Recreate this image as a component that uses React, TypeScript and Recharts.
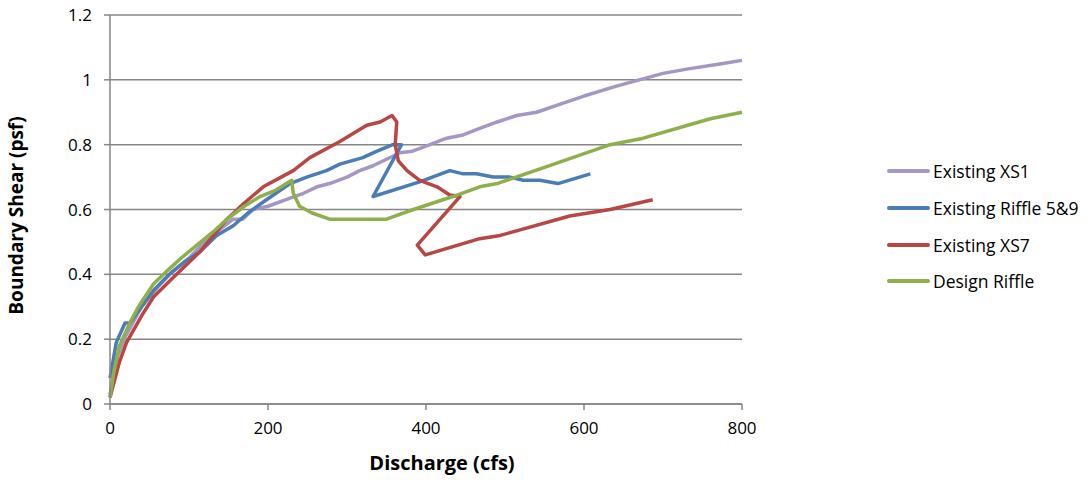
import { LineChart, Line, XAxis, YAxis, CartesianGrid } from 'recharts';

const FONT = "'Open Sans', 'Noto Sans', sans-serif";

const COLORS = {
  XS1: '#A597C4',
  RIFFLE: '#4A7DB6',
  XS7: '#B84644',
  DESIGN: '#8DB04A',
};

// discharge (cfs), boundary shear (psf)
const xs1Q = [0, 10, 20, 40, 60, 80, 100, 120, 140, 156, 168, 181, 200, 228, 245, 262, 278, 300, 316, 333, 350, 367, 383, 405, 426, 447, 468, 490, 515, 540, 570, 600, 640, 670, 700, 730, 772, 800];
const xs1Shear = [0.03, 0.15, 0.21, 0.3, 0.36, 0.41, 0.45, 0.5, 0.54, 0.57, 0.57, 0.6, 0.61, 0.635, 0.65, 0.67, 0.68, 0.7, 0.72, 0.735, 0.755, 0.775, 0.78, 0.8, 0.82, 0.83, 0.85, 0.87, 0.89, 0.9, 0.925, 0.95, 0.98, 1.0, 1.02, 1.033, 1.049, 1.06];

const riffleQ = [0, 8, 19, 25, 40, 55, 75, 95, 114, 135, 156, 175, 198, 228, 249, 274, 291, 320, 338, 358, 369, 333, 392, 430, 447, 464, 485, 506, 523, 544, 567, 608];
const riffleShear = [0.08, 0.19, 0.25, 0.25, 0.3, 0.35, 0.4, 0.44, 0.47, 0.52, 0.55, 0.59, 0.63, 0.68, 0.7, 0.72, 0.74, 0.76, 0.78, 0.8, 0.8, 0.64, 0.685, 0.72, 0.71, 0.71, 0.7, 0.7, 0.69, 0.69, 0.68, 0.71];

const xs7Q = [0, 12, 21, 42, 55, 80, 114, 148, 170, 194, 232, 253, 291, 325, 342, 357, 363, 361, 365, 376, 392, 414, 430, 443, 389, 399, 468, 494, 582, 633, 687];
const xs7Shear = [0.02, 0.13, 0.19, 0.28, 0.33, 0.39, 0.47, 0.57, 0.62, 0.67, 0.72, 0.76, 0.81, 0.86, 0.87, 0.89, 0.87, 0.8, 0.75, 0.72, 0.69, 0.67, 0.645, 0.64, 0.49, 0.46, 0.51, 0.52, 0.58, 0.6, 0.63];

const designQ = [0, 5, 12, 25, 36, 55, 72, 90, 110, 130, 148, 170, 190, 210, 230, 232, 240, 255, 278, 350, 384, 434, 468, 490, 550, 633, 675, 760, 800];
const designShear = [0.02, 0.1, 0.18, 0.25, 0.3, 0.37, 0.41, 0.45, 0.49, 0.53, 0.57, 0.61, 0.64, 0.66, 0.69, 0.65, 0.61, 0.59, 0.57, 0.57, 0.6, 0.64, 0.67, 0.68, 0.73, 0.8, 0.82, 0.88, 0.9];

const xTicks = [0, 200, 400, 600, 800];
const yTicks = [0, 0.2, 0.4, 0.6, 0.8, 1, 1.2];

const toPoints = (q: number[], s: number[]) => q.map((x, i) => ({ x, y: s[i] }));

const series = [
  { name: 'Existing XS1', color: COLORS.XS1, data: toPoints(xs1Q, xs1Shear) },
  { name: 'Existing Riffle 5&9', color: COLORS.RIFFLE, data: toPoints(riffleQ, riffleShear) },
  { name: 'Existing XS7', color: COLORS.XS7, data: toPoints(xs7Q, xs7Shear) },
  { name: 'Design Riffle', color: COLORS.DESIGN, data: toPoints(designQ, designShear) },
];

const AXIS_GRAY = '#868686';

export default function App() {
  return (
    <div
      style={{
        position: 'absolute',
        left: 0,
        top: 0,
        width: 1092,
        height: 480,
        background: '#fff',
        fontFamily: FONT,
      }}
    >
      <LineChart
        width={1092}
        height={480}
        margin={{ top: 15, right: 350, bottom: 6, left: 40 }}
      >
        <CartesianGrid vertical={false} stroke={AXIS_GRAY} strokeWidth={1.5} />
        <XAxis
          dataKey="x"
          type="number"
          domain={[0, 800]}
          ticks={xTicks}
          height={70}
          stroke={AXIS_GRAY}
          strokeWidth={1.5}
          tickSize={6}
          tickMargin={12}
          tick={{ fill: '#000', fontSize: 17, fontFamily: FONT }}
          allowDuplicatedCategory={false}
          label={{
            value: 'Discharge (cfs)',
            position: 'insideBottom',
            offset: 4,
            dx: 16,
            style: { fill: '#000', fontSize: 20, fontWeight: 700, fontFamily: FONT },
          }}
        />
        <YAxis
          dataKey="y"
          type="number"
          domain={[0, 1.2]}
          ticks={yTicks}
          width={70}
          stroke={AXIS_GRAY}
          strokeWidth={1.5}
          tickSize={6}
          tickMargin={12}
          tick={{ fill: '#000', fontSize: 17, fontFamily: FONT }}
          label={{
            value: 'Boundary Shear (psf)',
            angle: -90,
            position: 'insideLeft',
            offset: -24,
            dy: 6,
            style: { textAnchor: 'middle', fill: '#000', fontSize: 19, fontWeight: 700, fontFamily: FONT },
          }}
        />
        {series.map((s) => (
          <Line
            key={s.name}
            data={s.data}
            dataKey="y"
            name={s.name}
            stroke={s.color}
            strokeWidth={3.5}
            dot={false}
            activeDot={false}
            strokeLinejoin="round"
            isAnimationActive={false}
          />
        ))}
      </LineChart>

      {/* legend */}
      <div style={{ position: 'absolute', left: 887, top: 153 }}>
        {series.map((s) => (
          <div
            key={s.name}
            style={{ display: 'flex', alignItems: 'center', height: 36.7, whiteSpace: 'nowrap' }}
          >
            <div
              style={{
                width: 43,
                height: 4,
                borderRadius: 2,
                background: s.color,
                marginRight: 3,
              }}
            />
            <span style={{ fontSize: 17.5, color: '#000' }}>{s.name}</span>
          </div>
        ))}
      </div>
    </div>
  );
}
